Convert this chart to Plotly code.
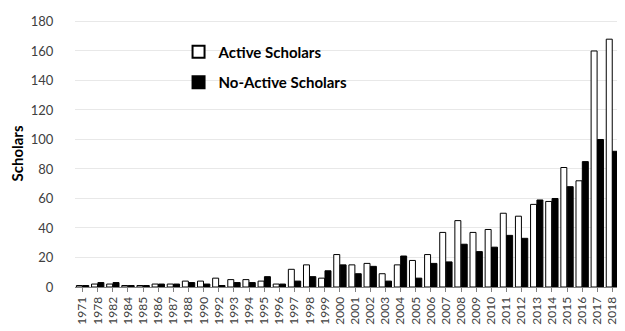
import plotly.graph_objects as go

years = ["1971", "1978", "1982", "1984", "1985", "1986", "1987", "1988", "1990",
         "1992", "1993", "1994", "1995", "1996", "1997", "1998", "1999", "2000",
         "2001", "2002", "2003", "2004", "2005", "2006", "2007", "2008", "2009",
         "2010", "2011", "2012", "2013", "2014", "2015", "2016", "2017", "2018"]

active = [1, 2, 2, 1, 1, 2, 2, 4, 4,
          6, 5, 5, 4, 2, 12, 15, 6, 22,
          15, 16, 9, 15, 18, 22, 37, 45, 37,
          39, 50, 48, 56, 58, 81, 72, 160, 168]

no_active = [1, 3, 3, 1, 1, 2, 2, 3, 2,
             1, 3, 3, 7, 2, 4, 7, 11, 15,
             9, 14, 4, 21, 6, 16, 17, 29, 24,
             27, 35, 33, 59, 60, 68, 85, 100, 92]

y_ticks = [0, 20, 40, 60, 80, 100, 120, 140, 160, 180]

fig = go.Figure()
fig.add_trace(go.Bar(
    x=years, y=active, name="Active Scholars", legendgroup="a",
    marker=dict(color="white", line=dict(color="black", width=1)),
))
fig.add_trace(go.Bar(
    x=years, y=no_active, name="No-Active Scholars", legendgroup="b",
    marker=dict(color="black", line=dict(color="black", width=1)),
))

font_family = "Lato, 'Open Sans', Arial, sans-serif"

fig.update_layout(
    width=617, height=323,
    margin=dict(l=67, r=5, t=7, b=44),
    paper_bgcolor="white", plot_bgcolor="white",
    barmode="group", bargap=0.16, bargroupgap=0.06,
    font=dict(family=font_family, color="#404040"),
    showlegend=True,
    legend=dict(
        x=0.19, y=0.942, xanchor="left", yanchor="top",
        bgcolor="rgba(0,0,0,0)",
        font=dict(size=15, color="black", family=font_family, weight="bold"),
        tracegroupgap=8, itemsizing="constant",
        itemwidth=30,
    ),
)

fig.update_yaxes(
    range=[0, 181], tickvals=y_ticks,
    showgrid=True, gridcolor="#e8e8e8", gridwidth=1,
    zeroline=False, showline=False,
    ticks="outside", ticklen=18, tickcolor="rgba(0,0,0,0)",
    tickfont=dict(size=13, color="#404040"),
    title=dict(text="Scholars", font=dict(size=15, color="black", weight="bold"), standoff=4),
)
fig.update_xaxes(
    type="category", tickangle=-90,
    showline=True, linecolor="#808080", linewidth=1,
    ticks="outside", ticklen=4, tickcolor="#808080",
    tickfont=dict(size=12, color="#404040"),
    showgrid=False,
)

fig.write_html("out.html")
